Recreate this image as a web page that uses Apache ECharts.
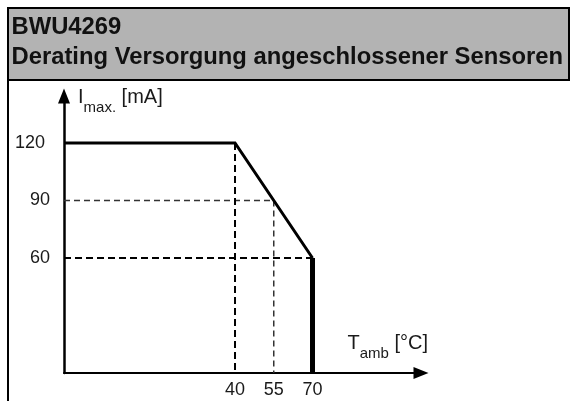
<!DOCTYPE html>
<html>
<head>
<meta charset="utf-8">
<script src="https://cdn.jsdelivr.net/npm/echarts@6/dist/echarts.min.js"></script>
<style>
html,body{margin:0;padding:0;background:#fff;}
#chart{width:571px;height:401px;}
</style>
</head>
<body>
<div id="chart"></div>
<script>
// ---- data ----
const titleLines = ['BWU4269', 'Derating Versorgung angeschlossener Sensoren'];
const tempTicks = [40, 55, 70];          // °C labels on x axis
const currentTicks = [60, 90, 120];      // mA labels on y axis
const xAxisMin = -26.2;                  // schematic axis start (not labelled)
const xAxisMax = 112;
const yAxisMin = 0;
const yAxisMax = 144.5;
// derating curve: flat 120 mA up to 40 °C, then linear down to 60 mA at 70 °C
const curveTemp = [xAxisMin, 40, 70];
const curveCurrent = [120, 120, 60];
// cut-off at 70 °C
const cutoffTemp = [70, 70];
const cutoffCurrent = [60, 0];
// dashed guide lines
const guideHTemp = [55, 70];      // horizontal guides end at these temps
const guideHCurrent = [90, 60];
const guideVTemp = [40, 55];      // vertical guides
const guideVCurrent = [120, 90];

const FONT = '"Liberation Sans", Arial, Helvetica, sans-serif';
const chart = echarts.init(document.getElementById('chart'), null, {renderer: 'canvas'});

const series = [];
// horizontal guides
guideHTemp.forEach((t, i) => {
  const thin = guideHCurrent[i] === 90;
  series.push({
    type: 'line', silent: true, showSymbol: false, symbol: 'none', z: 1,
    data: [[xAxisMin, guideHCurrent[i]], [t, guideHCurrent[i]]],
    lineStyle: {color: thin ? '#333' : '#000', width: thin ? 1.5 : 2, type: thin ? [6, 4] : [7, 4]}
  });
});
// vertical guides
guideVTemp.forEach((t, i) => {
  const thin = t === 55;
  series.push({
    type: 'line', silent: true, showSymbol: false, symbol: 'none', z: 1,
    data: [[t, guideVCurrent[i]], [t, yAxisMin]],
    lineStyle: {color: thin ? '#333' : '#000', width: thin ? 1.5 : 2, type: thin ? [6, 4] : [7, 4]}
  });
});
// main curve
series.push({
  type: 'line', silent: true, showSymbol: false, symbol: 'none', z: 3,
  data: curveTemp.map((t, i) => [t, curveCurrent[i]]),
  lineStyle: {color: '#000', width: 3, join: 'miter'}
});
series.push({
  type: 'line', silent: true, showSymbol: false, symbol: 'none', z: 3,
  data: cutoffTemp.map((t, i) => [t, cutoffCurrent[i]]),
  lineStyle: {color: '#000', width: 5}
});

const option = {
  animation: false,
  backgroundColor: '#fff',
  title: {
    text: titleLines.join('\n'),
    left: 11.5, top: 12.5, padding: 0,
    textStyle: {fontFamily: FONT, fontSize: 23.8, fontWeight: 'bold', color: '#111', lineHeight: 30}
  },
  graphic: [
    {type: 'rect', z: -10, shape: {x: 8, y: 8, width: 561, height: 72},
     style: {fill: '#b3b3b3', stroke: '#000', lineWidth: 2}},
    {type: 'line', z: -10, shape: {x1: 8, y1: 80, x2: 8, y2: 401},
     style: {stroke: '#000', lineWidth: 2}}
  ],
  grid: {left: 64, right: 150, top: 96, bottom: 28},
  xAxis: {
    type: 'value', min: xAxisMin, max: xAxisMax,
    splitLine: {show: false},
    axisTick: {show: false},
    axisLine: {onZero: false, lineStyle: {color: '#000', width: 2},
      symbol: ['none', 'triangle'], symbolSize: [12, 15]},
    axisLabel: {customValues: tempTicks, margin: 8, fontFamily: FONT, fontSize: 18, color: '#1a1a1a'},
    name: '{t|T}{s|amb}{t| [°C]}',
    nameLocation: 'end', nameGap: 7,
    nameTextStyle: {align: 'right', verticalAlign: 'bottom', padding: [0, 0, 12, 0],
      rich: {t: {fontFamily: FONT, fontSize: 20, color: '#1a1a1a'},
             s: {fontFamily: FONT, fontSize: 15, color: '#1a1a1a', padding: [20, 0, 0, 0]}}}
  },
  yAxis: {
    type: 'value', min: yAxisMin, max: yAxisMax,
    splitLine: {show: false},
    axisTick: {show: false},
    axisLine: {onZero: false, lineStyle: {color: '#000', width: 2.5},
      symbol: ['none', 'triangle'], symbolSize: [12, 15]},
    axisLabel: {customValues: currentTicks, margin: 14, fontFamily: FONT, fontSize: 18, color: '#1a1a1a',
      formatter: v => v === 120 ? '{b|' + v + '}' : '{a|' + v + '}',
      rich: {a: {fontFamily: FONT, fontSize: 18, color: '#1a1a1a'},
             b: {fontFamily: FONT, fontSize: 18, color: '#1a1a1a', padding: [0, 5, 0, 0]}}},
    name: '{t|I}{s|max.}{t| [mA]}',
    nameLocation: 'end', nameGap: -1.5,
    nameTextStyle: {align: 'left', verticalAlign: 'middle', padding: [0, 0, 0, 14],
      rich: {t: {fontFamily: FONT, fontSize: 20, color: '#1a1a1a'},
             s: {fontFamily: FONT, fontSize: 15, color: '#1a1a1a', padding: [20, 0, 0, 0]}}}
  },
  series: series
};
chart.setOption(option);
</script>
</body>
</html>
